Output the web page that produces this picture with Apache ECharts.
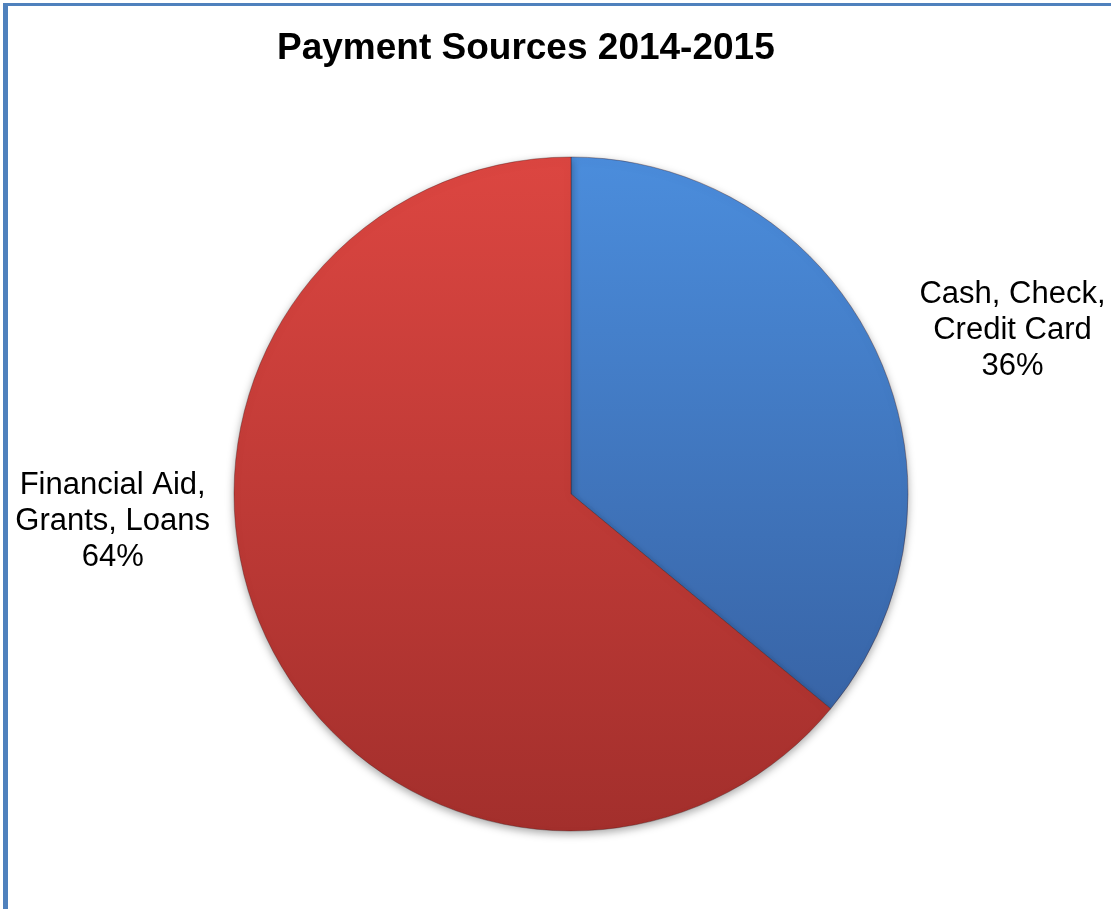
<!DOCTYPE html>
<html>
<head>
<meta charset="utf-8">
<script src="https://cdn.jsdelivr.net/npm/echarts@6/dist/echarts.min.js"></script>
<style>
  html, body { margin: 0; padding: 0; background: #ffffff; }
  #chart { position: absolute; left: 0; top: 0; width: 1111px; height: 909px; }
  #frame { position: absolute; left: 3px; top: 3px; width: 1108px; height: 906px;
           border-left: 5px solid #4f81bd; border-top: 3px solid #4f81bd;
           box-sizing: border-box; pointer-events: none; }
</style>
</head>
<body>
<div id="chart"></div>
<div id="frame"></div>
<script>
const titleText = 'Payment Sources 2014-2015';
const categories = ['Cash, Check,\nCredit Card', 'Financial Aid,\nGrants, Loans'];
const values = [36, 64];
const sliceColors = [
  ['#4b8ddc', '#3864a6'],
  ['#dc4641', '#a32f2c']
];

const chart = echarts.init(document.getElementById('chart'), null, { renderer: 'canvas' });

const CX = 571, CY = 494, R = 337;
// label offsets relative to the pie, in radius units
const labelPos = [[1.31, -0.485], [-1.36, 0.08]];

const data = categories.map((name, i) => ({
  name: name,
  value: values[i],
  itemStyle: {
    color: new echarts.graphic.LinearGradient(0, 0, 0, 1, [
      { offset: 0, color: sliceColors[i][0] },
      { offset: 1, color: sliceColors[i][1] }
    ])
  }
}));

chart.setOption({
  animation: false,
  backgroundColor: 'transparent',
  title: {
    text: titleText,
    left: 272,
    top: 25,
    textStyle: {
      fontFamily: 'Liberation Sans, Arial, sans-serif',
      fontWeight: 'bold',
      fontSize: 37,
      color: '#000000'
    }
  },
  series: [{
    type: 'pie',
    center: [CX, CY],
    radius: [0, R],
    startAngle: 90,
    clockwise: true,
    data: data,
    itemStyle: {
      borderColor: 'rgba(60,20,20,0.35)',
      borderWidth: 1,
      shadowColor: 'rgba(0,0,0,0.35)',
      shadowBlur: 8,
      shadowOffsetY: 3
    },
    label: {
      show: true,
      position: 'outside',
      formatter: '{b}\n{d}%',
      fontFamily: 'Liberation Sans, Arial, sans-serif',
      fontSize: 31,
      lineHeight: 36,
      color: '#000000',
      align: 'center',
      width: 240,
      overflow: 'none'
    },
    labelLine: { show: false },
    labelLayout: function (params) {
      const p = labelPos[params.dataIndex];
      return {
        x: CX + p[0] * R,
        y: CY + p[1] * R,
        align: 'center',
        verticalAlign: 'middle'
      };
    },
    emphasis: { disabled: true }
  }]
});
</script>
</body>
</html>
